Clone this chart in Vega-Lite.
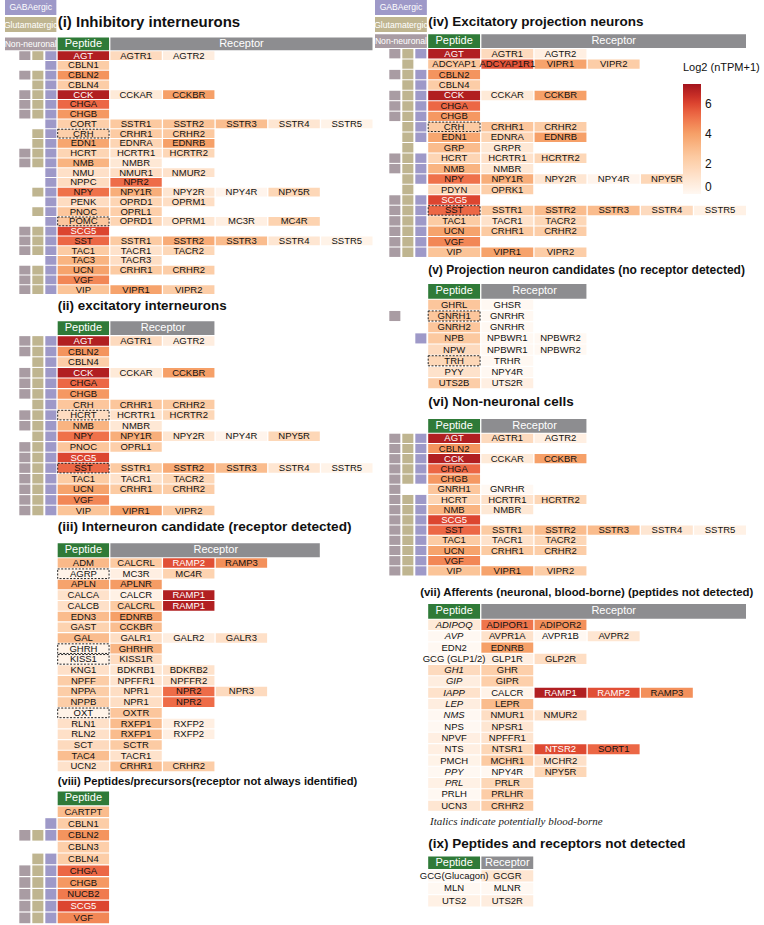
{
"$schema":"https://vega.github.io/schema/vega-lite/v6.json",
"background":"white",
"padding":{"left":3,"top":0,"right":0,"bottom":0},
"config":{"view":{"stroke":null},"font":"Liberation Sans"},
"datasets":{"cells":[
{"p":"i","pep":"AGT","col":"pep","g":"AGT","v":7.0,"ind":["N","G","A"]},{"p":"i","pep":"AGT","col":"r1","g":"AGTR1","v":1.6},{"p":"i","pep":"AGT","col":"r2","g":"AGTR2","v":0.6},
{"p":"i","pep":"CBLN1","col":"pep","g":"CBLN1","v":2.3,"ind":["A"]},
{"p":"i","pep":"CBLN2","col":"pep","g":"CBLN2","v":4.3,"ind":["N","G","A"]},
{"p":"i","pep":"CBLN4","col":"pep","g":"CBLN4","v":2.3,"ind":["G","A"]},
{"p":"i","pep":"CCK","col":"pep","g":"CCK","v":7.0,"ind":["N","G","A"]},{"p":"i","pep":"CCK","col":"r1","g":"CCKAR","v":0.8},{"p":"i","pep":"CCK","col":"r2","g":"CCKBR","v":4.0},
{"p":"i","pep":"CHGA","col":"pep","g":"CHGA","v":5.3,"ind":["N","G","A"]},
{"p":"i","pep":"CHGB","col":"pep","g":"CHGB","v":4.2,"ind":["N","G","A"]},
{"p":"i","pep":"CORT","col":"pep","g":"CORT","v":2.2,"ind":["A"]},{"p":"i","pep":"CORT","col":"r1","g":"SSTR1","v":2.5},{"p":"i","pep":"CORT","col":"r2","g":"SSTR2","v":2.7},{"p":"i","pep":"CORT","col":"r3","g":"SSTR3","v":2.9},{"p":"i","pep":"CORT","col":"r4","g":"SSTR4","v":1.0},{"p":"i","pep":"CORT","col":"r5","g":"SSTR5","v":0.3},
{"p":"i","pep":"CRH","col":"pep","g":"CRH","v":2.2,"ind":["G","A"],"box":1},{"p":"i","pep":"CRH","col":"r1","g":"CRHR1","v":2.4},{"p":"i","pep":"CRH","col":"r2","g":"CRHR2","v":2.5},
{"p":"i","pep":"EDN1","col":"pep","g":"EDN1","v":3.8,"ind":["G","A"]},{"p":"i","pep":"EDN1","col":"r1","g":"EDNRA","v":1.9},{"p":"i","pep":"EDN1","col":"r2","g":"EDNRB","v":4.0},
{"p":"i","pep":"HCRT","col":"pep","g":"HCRT","v":1.9,"ind":["N","G","A"]},{"p":"i","pep":"HCRT","col":"r1","g":"HCRTR1","v":1.2},{"p":"i","pep":"HCRT","col":"r2","g":"HCRTR2","v":1.8},
{"p":"i","pep":"NMB","col":"pep","g":"NMB","v":3.3,"ind":["N","G","A"]},{"p":"i","pep":"NMB","col":"r1","g":"NMBR","v":0.9},
{"p":"i","pep":"NMU","col":"pep","g":"NMU","v":1.3,"ind":["A"]},{"p":"i","pep":"NMU","col":"r1","g":"NMUR1","v":1.4},{"p":"i","pep":"NMU","col":"r2","g":"NMUR2","v":1.2},
{"p":"i","pep":"NPPC","col":"pep","g":"NPPC","v":1.5,"ind":["A"]},{"p":"i","pep":"NPPC","col":"r1","g":"NPR2","v":5.2},
{"p":"i","pep":"NPY","col":"pep","g":"NPY","v":5.1,"ind":["G","A"]},{"p":"i","pep":"NPY","col":"r1","g":"NPY1R","v":3.5},{"p":"i","pep":"NPY","col":"r2","g":"NPY2R","v":1.0},{"p":"i","pep":"NPY","col":"r3","g":"NPY4R","v":0.2},{"p":"i","pep":"NPY","col":"r4","g":"NPY5R","v":1.8},
{"p":"i","pep":"PENK","col":"pep","g":"PENK","v":1.5,"ind":["A"]},{"p":"i","pep":"PENK","col":"r1","g":"OPRD1","v":1.9},{"p":"i","pep":"PENK","col":"r2","g":"OPRM1","v":1.4},
{"p":"i","pep":"PNOC","col":"pep","g":"PNOC","v":2.6,"ind":["G","A"]},{"p":"i","pep":"PNOC","col":"r1","g":"OPRL1","v":2.2},
{"p":"i","pep":"POMC","col":"pep","g":"POMC","v":2.6,"ind":["A"],"box":1},{"p":"i","pep":"POMC","col":"r1","g":"OPRD1","v":1.9},{"p":"i","pep":"POMC","col":"r2","g":"OPRM1","v":1.0},{"p":"i","pep":"POMC","col":"r3","g":"MC3R","v":0.5},{"p":"i","pep":"POMC","col":"r4","g":"MC4R","v":2.0},
{"p":"i","pep":"SCG5","col":"pep","g":"SCG5","v":6.0,"ind":["N","G","A"]},
{"p":"i","pep":"SST","col":"pep","g":"SST","v":5.3,"ind":["N","G","A"]},{"p":"i","pep":"SST","col":"r1","g":"SSTR1","v":2.4},{"p":"i","pep":"SST","col":"r2","g":"SSTR2","v":3.6},{"p":"i","pep":"SST","col":"r3","g":"SSTR3","v":3.0},{"p":"i","pep":"SST","col":"r4","g":"SSTR4","v":1.0},{"p":"i","pep":"SST","col":"r5","g":"SSTR5","v":0.3},
{"p":"i","pep":"TAC1","col":"pep","g":"TAC1","v":2.4,"ind":["N","G","A"]},{"p":"i","pep":"TAC1","col":"r1","g":"TACR1","v":1.2},{"p":"i","pep":"TAC1","col":"r2","g":"TACR2","v":1.8},
{"p":"i","pep":"TAC3","col":"pep","g":"TAC3","v":3.3,"ind":["A"]},{"p":"i","pep":"TAC3","col":"r1","g":"TACR3","v":1.4},
{"p":"i","pep":"UCN","col":"pep","g":"UCN","v":3.9,"ind":["N","G","A"]},{"p":"i","pep":"UCN","col":"r1","g":"CRHR1","v":2.4},{"p":"i","pep":"UCN","col":"r2","g":"CRHR2","v":2.3},
{"p":"i","pep":"VGF","col":"pep","g":"VGF","v":4.6,"ind":["N","G","A"]},
{"p":"i","pep":"VIP","col":"pep","g":"VIP","v":2.7,"ind":["N","G","A"]},{"p":"i","pep":"VIP","col":"r1","g":"VIPR1","v":3.9},{"p":"i","pep":"VIP","col":"r2","g":"VIPR2","v":2.3},

{"p":"ii","pep":"AGT","col":"pep","g":"AGT","v":7.0,"ind":["N","G","A"]},{"p":"ii","pep":"AGT","col":"r1","g":"AGTR1","v":1.6},{"p":"ii","pep":"AGT","col":"r2","g":"AGTR2","v":0.6},
{"p":"ii","pep":"CBLN2","col":"pep","g":"CBLN2","v":4.3,"ind":["N","G","A"]},
{"p":"ii","pep":"CBLN4","col":"pep","g":"CBLN4","v":2.3,"ind":["G","A"]},
{"p":"ii","pep":"CCK","col":"pep","g":"CCK","v":7.0,"ind":["N","G","A"]},{"p":"ii","pep":"CCK","col":"r1","g":"CCKAR","v":0.8},{"p":"ii","pep":"CCK","col":"r2","g":"CCKBR","v":4.0},
{"p":"ii","pep":"CHGA","col":"pep","g":"CHGA","v":5.3,"ind":["N","G","A"]},
{"p":"ii","pep":"CHGB","col":"pep","g":"CHGB","v":4.2,"ind":["N","G","A"]},
{"p":"ii","pep":"CRH","col":"pep","g":"CRH","v":2.6,"ind":["G","A"]},{"p":"ii","pep":"CRH","col":"r1","g":"CRHR1","v":2.6},{"p":"ii","pep":"CRH","col":"r2","g":"CRHR2","v":2.4},
{"p":"ii","pep":"HCRT","col":"pep","g":"HCRT","v":1.5,"ind":["N","G","A"],"box":1},{"p":"ii","pep":"HCRT","col":"r1","g":"HCRTR1","v":1.2},{"p":"ii","pep":"HCRT","col":"r2","g":"HCRTR2","v":1.8},
{"p":"ii","pep":"NMB","col":"pep","g":"NMB","v":3.3,"ind":["N","G","A"]},{"p":"ii","pep":"NMB","col":"r1","g":"NMBR","v":0.9},
{"p":"ii","pep":"NPY","col":"pep","g":"NPY","v":5.1,"ind":["G","A"]},{"p":"ii","pep":"NPY","col":"r1","g":"NPY1R","v":3.5},{"p":"ii","pep":"NPY","col":"r2","g":"NPY2R","v":1.0},{"p":"ii","pep":"NPY","col":"r3","g":"NPY4R","v":0.2},{"p":"ii","pep":"NPY","col":"r4","g":"NPY5R","v":1.8},
{"p":"ii","pep":"PNOC","col":"pep","g":"PNOC","v":2.6,"ind":["N","G","A"]},{"p":"ii","pep":"PNOC","col":"r1","g":"OPRL1","v":2.2},
{"p":"ii","pep":"SCG5","col":"pep","g":"SCG5","v":6.0,"ind":["N","G","A"]},
{"p":"ii","pep":"SST","col":"pep","g":"SST","v":5.3,"ind":["N","G","A"],"box":1},{"p":"ii","pep":"SST","col":"r1","g":"SSTR1","v":2.4},{"p":"ii","pep":"SST","col":"r2","g":"SSTR2","v":3.6},{"p":"ii","pep":"SST","col":"r3","g":"SSTR3","v":3.0},{"p":"ii","pep":"SST","col":"r4","g":"SSTR4","v":1.0},{"p":"ii","pep":"SST","col":"r5","g":"SSTR5","v":0.3},
{"p":"ii","pep":"TAC1","col":"pep","g":"TAC1","v":2.4,"ind":["N","G","A"]},{"p":"ii","pep":"TAC1","col":"r1","g":"TACR1","v":1.2},{"p":"ii","pep":"TAC1","col":"r2","g":"TACR2","v":1.8},
{"p":"ii","pep":"UCN","col":"pep","g":"UCN","v":3.9,"ind":["N","G","A"]},{"p":"ii","pep":"UCN","col":"r1","g":"CRHR1","v":2.4},{"p":"ii","pep":"UCN","col":"r2","g":"CRHR2","v":2.3},
{"p":"ii","pep":"VGF","col":"pep","g":"VGF","v":4.6,"ind":["N","G","A"]},
{"p":"ii","pep":"VIP","col":"pep","g":"VIP","v":2.7,"ind":["N","G","A"]},{"p":"ii","pep":"VIP","col":"r1","g":"VIPR1","v":3.9},{"p":"ii","pep":"VIP","col":"r2","g":"VIPR2","v":2.3},

{"p":"iii","pep":"ADM","col":"pep","g":"ADM","v":3.1},{"p":"iii","pep":"ADM","col":"r1","g":"CALCRL","v":2.4},{"p":"iii","pep":"ADM","col":"r2","g":"RAMP2","v":5.8},{"p":"iii","pep":"ADM","col":"r3","g":"RAMP3","v":4.4},
{"p":"iii","pep":"AGRP","col":"pep","g":"AGRP","v":0.3,"box":1},{"p":"iii","pep":"AGRP","col":"r1","g":"MC3R","v":0.5},{"p":"iii","pep":"AGRP","col":"r2","g":"MC4R","v":2.0},
{"p":"iii","pep":"APLN","col":"pep","g":"APLN","v":3.9},{"p":"iii","pep":"APLN","col":"r1","g":"APLNR","v":4.1},
{"p":"iii","pep":"CALCA","col":"pep","g":"CALCA","v":1.2},{"p":"iii","pep":"CALCA","col":"r1","g":"CALCR","v":0.4},{"p":"iii","pep":"CALCA","col":"r2","g":"RAMP1","v":7.0},
{"p":"iii","pep":"CALCB","col":"pep","g":"CALCB","v":1.3},{"p":"iii","pep":"CALCB","col":"r1","g":"CALCRL","v":2.4},{"p":"iii","pep":"CALCB","col":"r2","g":"RAMP1","v":7.0},
{"p":"iii","pep":"EDN3","col":"pep","g":"EDN3","v":3.0},{"p":"iii","pep":"EDN3","col":"r1","g":"EDNRB","v":4.0},
{"p":"iii","pep":"GAST","col":"pep","g":"GAST","v":2.0},{"p":"iii","pep":"GAST","col":"r1","g":"CCKBR","v":2.9},
{"p":"iii","pep":"GAL","col":"pep","g":"GAL","v":3.0},{"p":"iii","pep":"GAL","col":"r1","g":"GALR1","v":1.4},{"p":"iii","pep":"GAL","col":"r2","g":"GALR2","v":0.6},{"p":"iii","pep":"GAL","col":"r3","g":"GALR3","v":1.3},
{"p":"iii","pep":"GHRH","col":"pep","g":"GHRH","v":0.3,"box":1},{"p":"iii","pep":"GHRH","col":"r1","g":"GHRHR","v":3.2},
{"p":"iii","pep":"KISS1","col":"pep","g":"KISS1","v":0.3,"box":1},{"p":"iii","pep":"KISS1","col":"r1","g":"KISS1R","v":1.5},
{"p":"iii","pep":"KNG1","col":"pep","g":"KNG1","v":1.3},{"p":"iii","pep":"KNG1","col":"r1","g":"BDKRB1","v":1.0},{"p":"iii","pep":"KNG1","col":"r2","g":"BDKRB2","v":1.2},
{"p":"iii","pep":"NPFF","col":"pep","g":"NPFF","v":2.3},{"p":"iii","pep":"NPFF","col":"r1","g":"NPFFR1","v":1.1},{"p":"iii","pep":"NPFF","col":"r2","g":"NPFFR2","v":1.2},
{"p":"iii","pep":"NPPA","col":"pep","g":"NPPA","v":2.3},{"p":"iii","pep":"NPPA","col":"r1","g":"NPR1","v":1.4},{"p":"iii","pep":"NPPA","col":"r2","g":"NPR2","v":5.2},{"p":"iii","pep":"NPPA","col":"r3","g":"NPR3","v":1.6},
{"p":"iii","pep":"NPPB","col":"pep","g":"NPPB","v":2.3},{"p":"iii","pep":"NPPB","col":"r1","g":"NPR1","v":1.4},{"p":"iii","pep":"NPPB","col":"r2","g":"NPR2","v":5.2},
{"p":"iii","pep":"OXT","col":"pep","g":"OXT","v":0.3,"box":1},{"p":"iii","pep":"OXT","col":"r1","g":"OXTR","v":2.6},
{"p":"iii","pep":"RLN1","col":"pep","g":"RLN1","v":1.3},{"p":"iii","pep":"RLN1","col":"r1","g":"RXFP1","v":3.0},{"p":"iii","pep":"RLN1","col":"r2","g":"RXFP2","v":0.5},
{"p":"iii","pep":"RLN2","col":"pep","g":"RLN2","v":1.3},{"p":"iii","pep":"RLN2","col":"r1","g":"RXFP1","v":3.0},{"p":"iii","pep":"RLN2","col":"r2","g":"RXFP2","v":0.5},
{"p":"iii","pep":"SCT","col":"pep","g":"SCT","v":1.6},{"p":"iii","pep":"SCT","col":"r1","g":"SCTR","v":2.4},
{"p":"iii","pep":"TAC4","col":"pep","g":"TAC4","v":2.9},{"p":"iii","pep":"TAC4","col":"r1","g":"TACR1","v":1.2},
{"p":"iii","pep":"UCN2","col":"pep","g":"UCN2","v":1.2},{"p":"iii","pep":"UCN2","col":"r1","g":"CRHR1","v":2.9},{"p":"iii","pep":"UCN2","col":"r2","g":"CRHR2","v":2.3},

{"p":"viii","pep":"CARTPT","col":"pep","g":"CARTPT","v":3.0},
{"p":"viii","pep":"CBLN1","col":"pep","g":"CBLN1","v":2.3,"ind":["A"]},
{"p":"viii","pep":"CBLN2","col":"pep","g":"CBLN2","v":4.3,"ind":["N","G","A"]},
{"p":"viii","pep":"CBLN3","col":"pep","g":"CBLN3","v":2.2},
{"p":"viii","pep":"CBLN4","col":"pep","g":"CBLN4","v":2.3,"ind":["G","A"]},
{"p":"viii","pep":"CHGA","col":"pep","g":"CHGA","v":5.3,"ind":["N","G","A"]},
{"p":"viii","pep":"CHGB","col":"pep","g":"CHGB","v":4.2,"ind":["N","G","A"]},
{"p":"viii","pep":"NUCB2","col":"pep","g":"NUCB2","v":4.9,"ind":["N","G","A"]},
{"p":"viii","pep":"SCG5","col":"pep","g":"SCG5","v":6.0,"ind":["N","G","A"]},
{"p":"viii","pep":"VGF","col":"pep","g":"VGF","v":4.6,"ind":["N","G","A"]},

{"p":"iv","pep":"AGT","col":"pep","g":"AGT","v":7.0,"ind":["N","G","A"]},{"p":"iv","pep":"AGT","col":"r1","g":"AGTR1","v":1.6},{"p":"iv","pep":"AGT","col":"r2","g":"AGTR2","v":0.5},
{"p":"iv","pep":"ADCYAP1","col":"pep","g":"ADCYAP1","v":2.6,"ind":["G"]},{"p":"iv","pep":"ADCYAP1","col":"r1","g":"ADCYAP1R1","v":5.7},{"p":"iv","pep":"ADCYAP1","col":"r2","g":"VIPR1","v":3.9},{"p":"iv","pep":"ADCYAP1","col":"r3","g":"VIPR2","v":2.3},
{"p":"iv","pep":"CBLN2","col":"pep","g":"CBLN2","v":4.3,"ind":["N","G","A"]},
{"p":"iv","pep":"CBLN4","col":"pep","g":"CBLN4","v":2.3,"ind":["G","A"]},
{"p":"iv","pep":"CCK","col":"pep","g":"CCK","v":7.0,"ind":["N","G","A"]},{"p":"iv","pep":"CCK","col":"r1","g":"CCKAR","v":0.8},{"p":"iv","pep":"CCK","col":"r2","g":"CCKBR","v":4.0},
{"p":"iv","pep":"CHGA","col":"pep","g":"CHGA","v":5.3,"ind":["N","G","A"]},
{"p":"iv","pep":"CHGB","col":"pep","g":"CHGB","v":4.2,"ind":["N","G","A"]},
{"p":"iv","pep":"CRH","col":"pep","g":"CRH","v":2.4,"ind":["G","A"],"box":1},{"p":"iv","pep":"CRH","col":"r1","g":"CRHR1","v":2.6},{"p":"iv","pep":"CRH","col":"r2","g":"CRHR2","v":2.3},
{"p":"iv","pep":"EDN1","col":"pep","g":"EDN1","v":3.8,"ind":["G","A"]},{"p":"iv","pep":"EDN1","col":"r1","g":"EDNRA","v":1.9},{"p":"iv","pep":"EDN1","col":"r2","g":"EDNRB","v":4.0},
{"p":"iv","pep":"GRP","col":"pep","g":"GRP","v":3.0,"ind":["G"]},{"p":"iv","pep":"GRP","col":"r1","g":"GRPR","v":0.9},
{"p":"iv","pep":"HCRT","col":"pep","g":"HCRT","v":1.9,"ind":["N","G","A"]},{"p":"iv","pep":"HCRT","col":"r1","g":"HCRTR1","v":1.2},{"p":"iv","pep":"HCRT","col":"r2","g":"HCRTR2","v":1.8},
{"p":"iv","pep":"NMB","col":"pep","g":"NMB","v":3.3,"ind":["N","G","A"]},{"p":"iv","pep":"NMB","col":"r1","g":"NMBR","v":0.9},
{"p":"iv","pep":"NPY","col":"pep","g":"NPY","v":5.1,"ind":["G","A"]},{"p":"iv","pep":"NPY","col":"r1","g":"NPY1R","v":3.5},{"p":"iv","pep":"NPY","col":"r2","g":"NPY2R","v":1.0},{"p":"iv","pep":"NPY","col":"r3","g":"NPY4R","v":0.2},{"p":"iv","pep":"NPY","col":"r4","g":"NPY5R","v":1.8},
{"p":"iv","pep":"PDYN","col":"pep","g":"PDYN","v":1.8,"ind":["G"]},{"p":"iv","pep":"PDYN","col":"r1","g":"OPRK1","v":2.2},
{"p":"iv","pep":"SCG5","col":"pep","g":"SCG5","v":6.0,"ind":["N","G","A"]},
{"p":"iv","pep":"SST","col":"pep","g":"SST","v":5.3,"ind":["N","G","A"],"box":1},{"p":"iv","pep":"SST","col":"r1","g":"SSTR1","v":2.4},{"p":"iv","pep":"SST","col":"r2","g":"SSTR2","v":3.0},{"p":"iv","pep":"SST","col":"r3","g":"SSTR3","v":3.0},{"p":"iv","pep":"SST","col":"r4","g":"SSTR4","v":1.6},{"p":"iv","pep":"SST","col":"r5","g":"SSTR5","v":0.4},
{"p":"iv","pep":"TAC1","col":"pep","g":"TAC1","v":2.4,"ind":["N","G","A"]},{"p":"iv","pep":"TAC1","col":"r1","g":"TACR1","v":1.2},{"p":"iv","pep":"TAC1","col":"r2","g":"TACR2","v":1.8},
{"p":"iv","pep":"UCN","col":"pep","g":"UCN","v":3.9,"ind":["N","G","A"]},{"p":"iv","pep":"UCN","col":"r1","g":"CRHR1","v":2.4},{"p":"iv","pep":"UCN","col":"r2","g":"CRHR2","v":2.3},
{"p":"iv","pep":"VGF","col":"pep","g":"VGF","v":4.6,"ind":["N","G","A"]},
{"p":"iv","pep":"VIP","col":"pep","g":"VIP","v":2.7,"ind":["N","G","A"]},{"p":"iv","pep":"VIP","col":"r1","g":"VIPR1","v":3.9},{"p":"iv","pep":"VIP","col":"r2","g":"VIPR2","v":2.3},

{"p":"v","pep":"GHRL","col":"pep","g":"GHRL","v":2.6},{"p":"v","pep":"GHRL","col":"r1","g":"GHSR","v":0},
{"p":"v","pep":"GNRH1","col":"pep","g":"GNRH1","v":2.6,"ind":["N"],"box":1},{"p":"v","pep":"GNRH1","col":"r1","g":"GNRHR","v":0},
{"p":"v","pep":"GNRH2","col":"pep","g":"GNRH2","v":2.6},{"p":"v","pep":"GNRH2","col":"r1","g":"GNRHR","v":0},
{"p":"v","pep":"NPB","col":"pep","g":"NPB","v":2.5,"ind":["A"]},{"p":"v","pep":"NPB","col":"r1","g":"NPBWR1","v":0},{"p":"v","pep":"NPB","col":"r2","g":"NPBWR2","v":0},
{"p":"v","pep":"NPW","col":"pep","g":"NPW","v":1.6},{"p":"v","pep":"NPW","col":"r1","g":"NPBWR1","v":0},{"p":"v","pep":"NPW","col":"r2","g":"NPBWR2","v":0},
{"p":"v","pep":"TRH","col":"pep","g":"TRH","v":1.8,"box":1},{"p":"v","pep":"TRH","col":"r1","g":"TRHR","v":0},
{"p":"v","pep":"PYY","col":"pep","g":"PYY","v":1.2},{"p":"v","pep":"PYY","col":"r1","g":"NPY4R","v":0},
{"p":"v","pep":"UTS2B","col":"pep","g":"UTS2B","v":2.3},{"p":"v","pep":"UTS2B","col":"r1","g":"UTS2R","v":0.5},

{"p":"vi","pep":"AGT","col":"pep","g":"AGT","v":7.0,"ind":["N","G","A"]},{"p":"vi","pep":"AGT","col":"r1","g":"AGTR1","v":1.6},{"p":"vi","pep":"AGT","col":"r2","g":"AGTR2","v":0.5},
{"p":"vi","pep":"CBLN2","col":"pep","g":"CBLN2","v":4.3,"ind":["N","G","A"]},
{"p":"vi","pep":"CCK","col":"pep","g":"CCK","v":7.0,"ind":["N","G","A"]},{"p":"vi","pep":"CCK","col":"r1","g":"CCKAR","v":0.8},{"p":"vi","pep":"CCK","col":"r2","g":"CCKBR","v":4.0},
{"p":"vi","pep":"CHGA","col":"pep","g":"CHGA","v":5.3,"ind":["N","G","A"]},
{"p":"vi","pep":"CHGB","col":"pep","g":"CHGB","v":4.2,"ind":["N","G","A"]},
{"p":"vi","pep":"GNRH1","col":"pep","g":"GNRH1","v":2.6,"ind":["N"]},{"p":"vi","pep":"GNRH1","col":"r1","g":"GNRHR","v":0},
{"p":"vi","pep":"HCRT","col":"pep","g":"HCRT","v":1.9,"ind":["N","G","A"]},{"p":"vi","pep":"HCRT","col":"r1","g":"HCRTR1","v":1.2},{"p":"vi","pep":"HCRT","col":"r2","g":"HCRTR2","v":1.8},
{"p":"vi","pep":"NMB","col":"pep","g":"NMB","v":3.3,"ind":["N","G","A"]},{"p":"vi","pep":"NMB","col":"r1","g":"NMBR","v":0.9},
{"p":"vi","pep":"SCG5","col":"pep","g":"SCG5","v":6.0,"ind":["N","G","A"]},
{"p":"vi","pep":"SST","col":"pep","g":"SST","v":5.3,"ind":["N","G","A"]},{"p":"vi","pep":"SST","col":"r1","g":"SSTR1","v":2.4},{"p":"vi","pep":"SST","col":"r2","g":"SSTR2","v":3.0},{"p":"vi","pep":"SST","col":"r3","g":"SSTR3","v":3.0},{"p":"vi","pep":"SST","col":"r4","g":"SSTR4","v":1.0},{"p":"vi","pep":"SST","col":"r5","g":"SSTR5","v":0.4},
{"p":"vi","pep":"TAC1","col":"pep","g":"TAC1","v":2.4,"ind":["N","G","A"]},{"p":"vi","pep":"TAC1","col":"r1","g":"TACR1","v":1.2},{"p":"vi","pep":"TAC1","col":"r2","g":"TACR2","v":1.8},
{"p":"vi","pep":"UCN","col":"pep","g":"UCN","v":3.9,"ind":["N","G","A"]},{"p":"vi","pep":"UCN","col":"r1","g":"CRHR1","v":2.4},{"p":"vi","pep":"UCN","col":"r2","g":"CRHR2","v":2.3},
{"p":"vi","pep":"VGF","col":"pep","g":"VGF","v":4.6,"ind":["N","G","A"]},
{"p":"vi","pep":"VIP","col":"pep","g":"VIP","v":2.7,"ind":["N","G","A"]},{"p":"vi","pep":"VIP","col":"r1","g":"VIPR1","v":3.9},{"p":"vi","pep":"VIP","col":"r2","g":"VIPR2","v":2.3},

{"p":"vii","pep":"ADIPOQ","col":"pep","g":"ADIPOQ","v":0.8,"it":1},{"p":"vii","pep":"ADIPOQ","col":"r1","g":"ADIPOR1","v":5.0},{"p":"vii","pep":"ADIPOQ","col":"r2","g":"ADIPOR2","v":4.4},
{"p":"vii","pep":"AVP","col":"pep","g":"AVP","v":0,"it":1},{"p":"vii","pep":"AVP","col":"r1","g":"AVPR1A","v":1.2},{"p":"vii","pep":"AVP","col":"r2","g":"AVPR1B","v":0},{"p":"vii","pep":"AVP","col":"r3","g":"AVPR2","v":1.0},
{"p":"vii","pep":"EDN2","col":"pep","g":"EDN2","v":0},{"p":"vii","pep":"EDN2","col":"r1","g":"EDNRB","v":4.0},
{"p":"vii","pep":"GCG (GLP1/2)","col":"pep","g":"GCG (GLP1/2)","v":0},{"p":"vii","pep":"GCG (GLP1/2)","col":"r1","g":"GLP1R","v":0.5},{"p":"vii","pep":"GCG (GLP1/2)","col":"r2","g":"GLP2R","v":1.4},
{"p":"vii","pep":"GH1","col":"pep","g":"GH1","v":1.6,"it":1},{"p":"vii","pep":"GH1","col":"r1","g":"GHR","v":2.2},
{"p":"vii","pep":"GIP","col":"pep","g":"GIP","v":0.6,"it":1},{"p":"vii","pep":"GIP","col":"r1","g":"GIPR","v":2.2},
{"p":"vii","pep":"IAPP","col":"pep","g":"IAPP","v":1.2,"it":1},{"p":"vii","pep":"IAPP","col":"r1","g":"CALCR","v":0.3},{"p":"vii","pep":"IAPP","col":"r2","g":"RAMP1","v":7.0},{"p":"vii","pep":"IAPP","col":"r3","g":"RAMP2","v":5.8},{"p":"vii","pep":"IAPP","col":"r4","g":"RAMP3","v":4.4},
{"p":"vii","pep":"LEP","col":"pep","g":"LEP","v":0.6,"it":1},{"p":"vii","pep":"LEP","col":"r1","g":"LEPR","v":3.0},
{"p":"vii","pep":"NMS","col":"pep","g":"NMS","v":0,"it":1},{"p":"vii","pep":"NMS","col":"r1","g":"NMUR1","v":1.4},{"p":"vii","pep":"NMS","col":"r2","g":"NMUR2","v":1.2},
{"p":"vii","pep":"NPS","col":"pep","g":"NPS","v":0},{"p":"vii","pep":"NPS","col":"r1","g":"NPSR1","v":1.0},
{"p":"vii","pep":"NPVF","col":"pep","g":"NPVF","v":0.5},{"p":"vii","pep":"NPVF","col":"r1","g":"NPFFR1","v":1.1},
{"p":"vii","pep":"NTS","col":"pep","g":"NTS","v":0.5},{"p":"vii","pep":"NTS","col":"r1","g":"NTSR1","v":1.8},{"p":"vii","pep":"NTS","col":"r2","g":"NTSR2","v":5.9},{"p":"vii","pep":"NTS","col":"r3","g":"SORT1","v":5.3},
{"p":"vii","pep":"PMCH","col":"pep","g":"PMCH","v":0.3},{"p":"vii","pep":"PMCH","col":"r1","g":"MCHR1","v":2.4},{"p":"vii","pep":"PMCH","col":"r2","g":"MCHR2","v":1.3},
{"p":"vii","pep":"PPY","col":"pep","g":"PPY","v":0,"it":1},{"p":"vii","pep":"PPY","col":"r1","g":"NPY4R","v":0},{"p":"vii","pep":"PPY","col":"r2","g":"NPY5R","v":1.8},
{"p":"vii","pep":"PRL","col":"pep","g":"PRL","v":0.4,"it":1},{"p":"vii","pep":"PRL","col":"r1","g":"PRLR","v":1.8},
{"p":"vii","pep":"PRLH","col":"pep","g":"PRLH","v":0},{"p":"vii","pep":"PRLH","col":"r1","g":"PRLHR","v":2.3},
{"p":"vii","pep":"UCN3","col":"pep","g":"UCN3","v":1.0},{"p":"vii","pep":"UCN3","col":"r1","g":"CRHR2","v":2.3},

{"p":"ix","pep":"GCG(Glucagon)","col":"pep","g":"GCG(Glucagon)","v":0},{"p":"ix","pep":"GCG(Glucagon)","col":"r1","g":"GCGR","v":1.0},
{"p":"ix","pep":"MLN","col":"pep","g":"MLN","v":0},{"p":"ix","pep":"MLN","col":"r1","g":"MLNR","v":0},
{"p":"ix","pep":"UTS2","col":"pep","g":"UTS2","v":0.4},{"p":"ix","pep":"UTS2","col":"r1","g":"UTS2R","v":0.6}
]},
"spacing":1,
"resolve":{"scale":{"color":"independent","fill":"independent"},"legend":{"color":"independent","fill":"independent"}},
"hconcat":[
{"spacing":3,
"resolve":{"scale":{"color":"independent","fill":"independent"},"legend":{"color":"independent","fill":"independent"}},
"vconcat":[
{"spacing":5,
"resolve":{"scale":{"color":"independent","fill":"independent"},"legend":{"color":"independent","fill":"independent"}},
"vconcat":[
{"width":367.5,"height":32,
"data":{"values":[{"lab":"GABAergic","c":"A"},{"lab":"Glutamatergic","c":"G"}]},
"encoding":{"x":{"datum":"ind","type":"nominal","scale":{"domain":["ind","pep","r1","r2","r3","r4","r5"],"paddingInner":0.025,"paddingOuter":0},"axis":null},
"y":{"field":"lab","type":"nominal","scale":{"domain":["GABAergic","Glutamatergic"],"paddingInner":0.12,"paddingOuter":0},"axis":null}},
"layer":[
{"mark":{"type":"rect"},"encoding":{"fill":{"field":"c","type":"nominal","scale":{"domain":["N","G","A"],"range":["#a99ca3","#bfb590","#9e99c8"]},"legend":null}}},
{"mark":{"type":"text","color":"white","fontSize":8.6},"encoding":{"text":{"field":"lab"}}},
{"data":{"values":[{"t":"(i) Inhibitory interneurons"}]},"mark":{"type":"text","align":"left","baseline":"middle","dy":-3,"fontSize":15,"fontWeight":"bold","color":"#111"},"encoding":{"x":{"datum":"pep","bandPosition":0},"y":{"datum":"Glutamatergic"},"text":{"field":"t"}}}
]},
{"width":367.5,"height":{"step":9.75},
"encoding":{"x":{"field":"col","type":"nominal","scale":{"domain":["ind","pep","r1","r2","r3","r4","r5"],"paddingInner":0.025,"paddingOuter":0},"axis":null},
"y":{"field":"pep","type":"nominal","scale":{"domain":["hdr","AGT","CBLN1","CBLN2","CBLN4","CCK","CHGA","CHGB","CORT","CRH","EDN1","HCRT","NMB","NMU","NPPC","NPY","PENK","PNOC","POMC","SCG5","SST","TAC1","TAC3","UCN","VGF","VIP"],"paddingInner":0.1,"paddingOuter":0.05},"axis":null}},
"layer":[
{"data":{"values":[{"h":"Peptide"}]},"mark":{"type":"rect","color":"#2f7a38"},"encoding":{"x":{"datum":"pep"},"y":{"datum":"hdr","bandPosition":-0.45},"y2":{"datum":"hdr","bandPosition":1}}},
{"data":{"values":[{"h":"Receptor"}]},"mark":{"type":"rect","color":"#8d8d90"},"encoding":{"x":{"datum":"r1","bandPosition":0},"x2":{"datum":"r5","bandPosition":1},"y":{"datum":"hdr","bandPosition":-0.45},"y2":{"datum":"hdr","bandPosition":1}}},
{"data":{"values":[{"h":"Peptide"}]},"mark":{"type":"text","color":"white","fontSize":11},"encoding":{"x":{"datum":"pep"},"y":{"datum":"hdr","bandPosition":0.28},"text":{"field":"h"}}},
{"data":{"values":[{"h":"Receptor"}]},"mark":{"type":"text","color":"white","fontSize":11},"encoding":{"x":{"datum":"r3","bandPosition":0.5},"y":{"datum":"hdr","bandPosition":0.28},"text":{"field":"h"}}},
{"data":{"values":[{"lab":"Non-neuronal","c":"N"}]},"mark":{"type":"rect"},"encoding":{"x":{"datum":"ind"},"y":{"datum":"hdr","bandPosition":-0.45},"y2":{"datum":"hdr","bandPosition":1},"fill":{"field":"c","type":"nominal","scale":{"domain":["N","G","A"],"range":["#a99ca3","#bfb590","#9e99c8"]},"legend":null}}},
{"data":{"values":[{"lab":"Non-neuronal"}]},"mark":{"type":"text","color":"white","fontSize":8.6},"encoding":{"x":{"datum":"ind"},"y":{"datum":"hdr","bandPosition":0.28},"text":{"field":"lab"}}},
{"data":{"name":"cells"},"transform":[{"filter":"datum.p=='i'"}],"mark":{"type":"rect"},"encoding":{"color":{"field":"v","type":"quantitative","scale":{"domain":[0,1,2.5,4,5.2,6.2,7.3],"range":["#fff8f2","#fee6d2","#fcc9a0","#f6a068","#ee6c48","#d8392a","#a3141d"],"clamp":true},"legend":null}}},
{"data":{"name":"cells"},"transform":[{"filter":"datum.p=='i'"}],"mark":{"type":"text","fontSize":9.5},"encoding":{"text":{"field":"g"},"color":{"condition":{"test":"datum.v>=5.8","value":"white"},"value":"#111"}}},
{"data":{"name":"cells"},"transform":[{"filter":"datum.p=='i' && datum.box"}],"mark":{"type":"rect","filled":false,"stroke":"#222","strokeWidth":1,"strokeDash":[2,1.5]}},
{"data":{"name":"cells"},"transform":[{"filter":"datum.p=='i' && datum.ind"},{"flatten":["ind"]}],"mark":{"type":"rect"},"encoding":{"x":{"datum":"ind"},"xOffset":{"field":"ind","type":"nominal","scale":{"domain":["N","G","A"],"paddingInner":0.15,"paddingOuter":0.55,"align":1}},"fill":{"field":"ind","type":"nominal","scale":{"domain":["N","G","A"],"range":["#a99ca3","#bfb590","#9e99c8"]},"legend":null}}}
]}
]},
{"width":367.5,"height":{"step":10.6},
"encoding":{"x":{"field":"col","type":"nominal","scale":{"domain":["ind","pep","r1","r2","r3","r4","r5"],"paddingInner":0.025,"paddingOuter":0},"axis":null},
"y":{"field":"pep","type":"nominal","scale":{"domain":["hdr","AGT","CBLN2","CBLN4","CCK","CHGA","CHGB","CRH","HCRT","NMB","NPY","PNOC","SCG5","SST","TAC1","UCN","VGF","VIP"],"paddingInner":0.1,"paddingOuter":0.05},"axis":null}},
"layer":[
{"data":{"values":[{"h":"Peptide"}]},"mark":{"type":"rect","color":"#2f7a38"},"encoding":{"x":{"datum":"pep"},"y":{"datum":"hdr","bandPosition":-0.45},"y2":{"datum":"hdr","bandPosition":1}}},
{"data":{"values":[{"h":"Receptor"}]},"mark":{"type":"rect","color":"#8d8d90"},"encoding":{"x":{"datum":"r1","bandPosition":0},"x2":{"datum":"r2","bandPosition":1},"y":{"datum":"hdr","bandPosition":-0.45},"y2":{"datum":"hdr","bandPosition":1}}},
{"data":{"values":[{"h":"Peptide"}]},"mark":{"type":"text","color":"white","fontSize":11},"encoding":{"x":{"datum":"pep"},"y":{"datum":"hdr","bandPosition":0.28},"text":{"field":"h"}}},
{"data":{"values":[{"h":"Receptor"}]},"mark":{"type":"text","color":"white","fontSize":11},"encoding":{"x":{"datum":"r2","bandPosition":0},"y":{"datum":"hdr","bandPosition":0.28},"text":{"field":"h"}}},
{"data":{"name":"cells"},"transform":[{"filter":"datum.p=='ii'"}],"mark":{"type":"rect"},"encoding":{"color":{"field":"v","type":"quantitative","scale":{"domain":[0,1,2.5,4,5.2,6.2,7.3],"range":["#fff8f2","#fee6d2","#fcc9a0","#f6a068","#ee6c48","#d8392a","#a3141d"],"clamp":true},"legend":null}}},
{"data":{"name":"cells"},"transform":[{"filter":"datum.p=='ii'"}],"mark":{"type":"text","fontSize":9.5},"encoding":{"text":{"field":"g"},"color":{"condition":{"test":"datum.v>=5.8","value":"white"},"value":"#111"}}},
{"data":{"name":"cells"},"transform":[{"filter":"datum.p=='ii' && datum.box"}],"mark":{"type":"rect","filled":false,"stroke":"#222","strokeWidth":1,"strokeDash":[2,1.5]}},
{"data":{"name":"cells"},"transform":[{"filter":"datum.p=='ii' && datum.ind"},{"flatten":["ind"]}],"mark":{"type":"rect"},"encoding":{"x":{"datum":"ind"},"xOffset":{"field":"ind","type":"nominal","scale":{"domain":["N","G","A"],"paddingInner":0.15,"paddingOuter":0.55,"align":1}},"fill":{"field":"ind","type":"nominal","scale":{"domain":["N","G","A"],"range":["#a99ca3","#bfb590","#9e99c8"]},"legend":null}}},
{"data":{"values":[{"t":"(ii) excitatory interneurons"}]},"mark":{"type":"text","align":"left","baseline":"alphabetic","dy":-16,"fontSize":13.4,"fontWeight":"bold","color":"#111"},"encoding":{"x":{"datum":"pep","bandPosition":0},"y":{"datum":"hdr","bandPosition":0},"text":{"field":"t"}}}
]},
{"width":367.5,"height":{"step":10.7},
"encoding":{"x":{"field":"col","type":"nominal","scale":{"domain":["ind","pep","r1","r2","r3","r4","r5"],"paddingInner":0.025,"paddingOuter":0},"axis":null},
"y":{"field":"pep","type":"nominal","scale":{"domain":["hdr","ADM","AGRP","APLN","CALCA","CALCB","EDN3","GAST","GAL","GHRH","KISS1","KNG1","NPFF","NPPA","NPPB","OXT","RLN1","RLN2","SCT","TAC4","UCN2"],"paddingInner":0.1,"paddingOuter":0.05},"axis":null}},
"layer":[
{"data":{"values":[{"h":"Peptide"}]},"mark":{"type":"rect","color":"#2f7a38"},"encoding":{"x":{"datum":"pep"},"y":{"datum":"hdr","bandPosition":-0.45},"y2":{"datum":"hdr","bandPosition":1}}},
{"data":{"values":[{"h":"Receptor"}]},"mark":{"type":"rect","color":"#8d8d90"},"encoding":{"x":{"datum":"r1","bandPosition":0},"x2":{"datum":"r4","bandPosition":1},"y":{"datum":"hdr","bandPosition":-0.45},"y2":{"datum":"hdr","bandPosition":1}}},
{"data":{"values":[{"h":"Peptide"}]},"mark":{"type":"text","color":"white","fontSize":11},"encoding":{"x":{"datum":"pep"},"y":{"datum":"hdr","bandPosition":0.28},"text":{"field":"h"}}},
{"data":{"values":[{"h":"Receptor"}]},"mark":{"type":"text","color":"white","fontSize":11},"encoding":{"x":{"datum":"r3","bandPosition":0},"y":{"datum":"hdr","bandPosition":0.28},"text":{"field":"h"}}},
{"data":{"name":"cells"},"transform":[{"filter":"datum.p=='iii'"}],"mark":{"type":"rect"},"encoding":{"color":{"field":"v","type":"quantitative","scale":{"domain":[0,1,2.5,4,5.2,6.2,7.3],"range":["#fff8f2","#fee6d2","#fcc9a0","#f6a068","#ee6c48","#d8392a","#a3141d"],"clamp":true},"legend":null}}},
{"data":{"name":"cells"},"transform":[{"filter":"datum.p=='iii'"}],"mark":{"type":"text","fontSize":9.5},"encoding":{"text":{"field":"g"},"color":{"condition":{"test":"datum.v>=5.8","value":"white"},"value":"#111"}}},
{"data":{"name":"cells"},"transform":[{"filter":"datum.p=='iii' && datum.box"}],"mark":{"type":"rect","filled":false,"stroke":"#222","strokeWidth":1,"strokeDash":[2,1.5]}},
{"data":{"values":[{"t":"(iii) Interneuron candidate (receptor detected)"}]},"mark":{"type":"text","align":"left","baseline":"alphabetic","dy":-17,"fontSize":13.6,"fontWeight":"bold","color":"#111"},"encoding":{"x":{"datum":"pep","bandPosition":0},"y":{"datum":"hdr","bandPosition":0},"text":{"field":"t"}}}
]},
{"width":367.5,"height":{"step":11.8},
"encoding":{"x":{"field":"col","type":"nominal","scale":{"domain":["ind","pep","r1","r2","r3","r4","r5"],"paddingInner":0.025,"paddingOuter":0},"axis":null},
"y":{"field":"pep","type":"nominal","scale":{"domain":["hdr","CARTPT","CBLN1","CBLN2","CBLN3","CBLN4","CHGA","CHGB","NUCB2","SCG5","VGF"],"paddingInner":0.1,"paddingOuter":0.05},"axis":null}},
"layer":[
{"data":{"values":[{"h":"Peptide"}]},"mark":{"type":"rect","color":"#2f7a38"},"encoding":{"x":{"datum":"pep"},"y":{"datum":"hdr","bandPosition":-0.3},"y2":{"datum":"hdr","bandPosition":1}}},
{"data":{"values":[{"h":"Peptide"}]},"mark":{"type":"text","color":"white","fontSize":11},"encoding":{"x":{"datum":"pep"},"y":{"datum":"hdr","bandPosition":0.35},"text":{"field":"h"}}},
{"data":{"name":"cells"},"transform":[{"filter":"datum.p=='viii'"}],"mark":{"type":"rect"},"encoding":{"color":{"field":"v","type":"quantitative","scale":{"domain":[0,1,2.5,4,5.2,6.2,7.3],"range":["#fff8f2","#fee6d2","#fcc9a0","#f6a068","#ee6c48","#d8392a","#a3141d"],"clamp":true},"legend":null}}},
{"data":{"name":"cells"},"transform":[{"filter":"datum.p=='viii'"}],"mark":{"type":"text","fontSize":9.5},"encoding":{"text":{"field":"g"},"color":{"condition":{"test":"datum.v>=5.8","value":"white"},"value":"#111"}}},
{"data":{"name":"cells"},"transform":[{"filter":"datum.p=='viii' && datum.ind"},{"flatten":["ind"]}],"mark":{"type":"rect"},"encoding":{"x":{"datum":"ind"},"xOffset":{"field":"ind","type":"nominal","scale":{"domain":["N","G","A"],"paddingInner":0.15,"paddingOuter":0.55,"align":1}},"fill":{"field":"ind","type":"nominal","scale":{"domain":["N","G","A"],"range":["#a99ca3","#bfb590","#9e99c8"]},"legend":null}}},
{"data":{"values":[{"t":"(viii) Peptides/precursors(receptor not always identified)"}]},"mark":{"type":"text","align":"left","baseline":"alphabetic","dy":-10,"fontSize":11.2,"fontWeight":"bold","color":"#111"},"encoding":{"x":{"datum":"pep","bandPosition":0},"y":{"datum":"hdr","bandPosition":0},"text":{"field":"t"}}}
]}
]},
{"spacing":10,
"resolve":{"scale":{"color":"independent","fill":"independent"},"legend":{"color":"independent","fill":"independent"}},
"vconcat":[
{"spacing":5,
"resolve":{"scale":{"color":"independent","fill":"independent"},"legend":{"color":"independent","fill":"independent"}},
"vconcat":[
{"spacing":2,
"resolve":{"scale":{"color":"independent","fill":"independent"},"legend":{"color":"independent","fill":"independent"}},
"vconcat":[
{"width":371,"height":32,
"data":{"values":[{"lab":"GABAergic","c":"A"},{"lab":"Glutamatergic","c":"G"}]},
"encoding":{"x":{"datum":"ind","type":"nominal","scale":{"domain":["ind","pep","r1","r2","r3","r4","r5"],"paddingInner":0.025,"paddingOuter":0},"axis":null},
"y":{"field":"lab","type":"nominal","scale":{"domain":["GABAergic","Glutamatergic"],"paddingInner":0.12,"paddingOuter":0},"axis":null}},
"layer":[
{"mark":{"type":"rect"},"encoding":{"fill":{"field":"c","type":"nominal","scale":{"domain":["N","G","A"],"range":["#a99ca3","#bfb590","#9e99c8"]},"legend":null}}},
{"mark":{"type":"text","color":"white","fontSize":8.6},"encoding":{"text":{"field":"lab"}}},
{"data":{"values":[{"t":"(iv) Excitatory projection neurons"}]},"mark":{"type":"text","align":"left","baseline":"middle","dy":-3,"fontSize":13.5,"fontWeight":"bold","color":"#111"},"encoding":{"x":{"datum":"pep","bandPosition":0},"y":{"datum":"Glutamatergic"},"text":{"field":"t"}}}
]},
{"width":371,"height":{"step":10.45},
"encoding":{"x":{"field":"col","type":"nominal","scale":{"domain":["ind","pep","r1","r2","r3","r4","r5"],"paddingInner":0.025,"paddingOuter":0},"axis":null},
"y":{"field":"pep","type":"nominal","scale":{"domain":["hdr","AGT","ADCYAP1","CBLN2","CBLN4","CCK","CHGA","CHGB","CRH","EDN1","GRP","HCRT","NMB","NPY","PDYN","SCG5","SST","TAC1","UCN","VGF","VIP"],"paddingInner":0.1,"paddingOuter":0.05},"axis":null}},
"layer":[
{"data":{"values":[{"h":"Peptide"}]},"mark":{"type":"rect","color":"#2f7a38"},"encoding":{"x":{"datum":"pep"},"y":{"datum":"hdr","bandPosition":-0.45},"y2":{"datum":"hdr","bandPosition":1}}},
{"data":{"values":[{"h":"Receptor"}]},"mark":{"type":"rect","color":"#8d8d90"},"encoding":{"x":{"datum":"r1","bandPosition":0},"x2":{"datum":"r5","bandPosition":1},"y":{"datum":"hdr","bandPosition":-0.45},"y2":{"datum":"hdr","bandPosition":1}}},
{"data":{"values":[{"h":"Peptide"}]},"mark":{"type":"text","color":"white","fontSize":11},"encoding":{"x":{"datum":"pep"},"y":{"datum":"hdr","bandPosition":0.28},"text":{"field":"h"}}},
{"data":{"values":[{"h":"Receptor"}]},"mark":{"type":"text","color":"white","fontSize":11},"encoding":{"x":{"datum":"r3","bandPosition":0.5},"y":{"datum":"hdr","bandPosition":0.28},"text":{"field":"h"}}},
{"data":{"values":[{"lab":"Non-neuronal","c":"N"}]},"mark":{"type":"rect"},"encoding":{"x":{"datum":"ind"},"y":{"datum":"hdr","bandPosition":-0.45},"y2":{"datum":"hdr","bandPosition":1},"fill":{"field":"c","type":"nominal","scale":{"domain":["N","G","A"],"range":["#a99ca3","#bfb590","#9e99c8"]},"legend":null}}},
{"data":{"values":[{"lab":"Non-neuronal"}]},"mark":{"type":"text","color":"white","fontSize":8.6},"encoding":{"x":{"datum":"ind"},"y":{"datum":"hdr","bandPosition":0.28},"text":{"field":"lab"}}},
{"data":{"name":"cells"},"transform":[{"filter":"datum.p=='iv'"}],"mark":{"type":"rect"},"encoding":{"color":{"field":"v","type":"quantitative","scale":{"domain":[0,1,2.5,4,5.2,6.2,7.3],"range":["#fff8f2","#fee6d2","#fcc9a0","#f6a068","#ee6c48","#d8392a","#a3141d"],"clamp":true},"legend":{"orient":"none","legendX":308,"legendY":24,"title":"Log2 (nTPM+1)","values":[0,2,4,6],"direction":"vertical","gradientLength":110,"gradientThickness":18,"titleFontSize":11,"titleFontWeight":"normal","titleColor":"#111","titlePadding":11,"labelFontSize":12,"labelColor":"#111","labelOffset":4}}}},
{"data":{"name":"cells"},"transform":[{"filter":"datum.p=='iv'"}],"mark":{"type":"text","fontSize":9.5},"encoding":{"text":{"field":"g"},"color":{"condition":{"test":"datum.v>=5.8","value":"white"},"value":"#111"}}},
{"data":{"name":"cells"},"transform":[{"filter":"datum.p=='iv' && datum.box"}],"mark":{"type":"rect","filled":false,"stroke":"#222","strokeWidth":1,"strokeDash":[2,1.5]}},
{"data":{"name":"cells"},"transform":[{"filter":"datum.p=='iv' && datum.ind"},{"flatten":["ind"]}],"mark":{"type":"rect"},"encoding":{"x":{"datum":"ind"},"xOffset":{"field":"ind","type":"nominal","scale":{"domain":["N","G","A"],"paddingInner":0.15,"paddingOuter":0.55,"align":1}},"fill":{"field":"ind","type":"nominal","scale":{"domain":["N","G","A"],"range":["#a99ca3","#bfb590","#9e99c8"]},"legend":null}}}
]}
]},
{"width":371,"height":{"step":11.2},
"encoding":{"x":{"field":"col","type":"nominal","scale":{"domain":["ind","pep","r1","r2","r3","r4","r5"],"paddingInner":0.025,"paddingOuter":0},"axis":null},
"y":{"field":"pep","type":"nominal","scale":{"domain":["hdr","GHRL","GNRH1","GNRH2","NPB","NPW","TRH","PYY","UTS2B"],"paddingInner":0.1,"paddingOuter":0.05},"axis":null}},
"layer":[
{"data":{"values":[{"h":"Peptide"}]},"mark":{"type":"rect","color":"#2f7a38"},"encoding":{"x":{"datum":"pep"},"y":{"datum":"hdr","bandPosition":-0.45},"y2":{"datum":"hdr","bandPosition":1}}},
{"data":{"values":[{"h":"Receptor"}]},"mark":{"type":"rect","color":"#8d8d90"},"encoding":{"x":{"datum":"r1","bandPosition":0},"x2":{"datum":"r2","bandPosition":1},"y":{"datum":"hdr","bandPosition":-0.45},"y2":{"datum":"hdr","bandPosition":1}}},
{"data":{"values":[{"h":"Peptide"}]},"mark":{"type":"text","color":"white","fontSize":11},"encoding":{"x":{"datum":"pep"},"y":{"datum":"hdr","bandPosition":0.28},"text":{"field":"h"}}},
{"data":{"values":[{"h":"Receptor"}]},"mark":{"type":"text","color":"white","fontSize":11},"encoding":{"x":{"datum":"r2","bandPosition":0},"y":{"datum":"hdr","bandPosition":0.28},"text":{"field":"h"}}},
{"data":{"name":"cells"},"transform":[{"filter":"datum.p=='v'"}],"mark":{"type":"rect"},"encoding":{"color":{"field":"v","type":"quantitative","scale":{"domain":[0,1,2.5,4,5.2,6.2,7.3],"range":["#fff8f2","#fee6d2","#fcc9a0","#f6a068","#ee6c48","#d8392a","#a3141d"],"clamp":true},"legend":null}}},
{"data":{"name":"cells"},"transform":[{"filter":"datum.p=='v'"}],"mark":{"type":"text","fontSize":9.5},"encoding":{"text":{"field":"g"},"color":{"condition":{"test":"datum.v>=5.8","value":"white"},"value":"#111"}}},
{"data":{"name":"cells"},"transform":[{"filter":"datum.p=='v' && datum.box"}],"mark":{"type":"rect","filled":false,"stroke":"#222","strokeWidth":1,"strokeDash":[2,1.5]}},
{"data":{"name":"cells"},"transform":[{"filter":"datum.p=='v' && datum.ind"},{"flatten":["ind"]}],"mark":{"type":"rect"},"encoding":{"x":{"datum":"ind"},"xOffset":{"field":"ind","type":"nominal","scale":{"domain":["N","G","A"],"paddingInner":0.15,"paddingOuter":0.55,"align":1}},"fill":{"field":"ind","type":"nominal","scale":{"domain":["N","G","A"],"range":["#a99ca3","#bfb590","#9e99c8"]},"legend":null}}},
{"data":{"values":[{"t":"(v) Projection neuron candidates (no receptor detected)"}]},"mark":{"type":"text","align":"left","baseline":"alphabetic","dy":-15,"fontSize":12,"fontWeight":"bold","color":"#111"},"encoding":{"x":{"datum":"pep","bandPosition":0},"y":{"datum":"hdr","bandPosition":0},"text":{"field":"t"}}}
]},
{"width":371,"height":{"step":10.2},
"encoding":{"x":{"field":"col","type":"nominal","scale":{"domain":["ind","pep","r1","r2","r3","r4","r5"],"paddingInner":0.025,"paddingOuter":0},"axis":null},
"y":{"field":"pep","type":"nominal","scale":{"domain":["hdr","AGT","CBLN2","CCK","CHGA","CHGB","GNRH1","HCRT","NMB","SCG5","SST","TAC1","UCN","VGF","VIP"],"paddingInner":0.1,"paddingOuter":0.05},"axis":null}},
"layer":[
{"data":{"values":[{"h":"Peptide"}]},"mark":{"type":"rect","color":"#2f7a38"},"encoding":{"x":{"datum":"pep"},"y":{"datum":"hdr","bandPosition":-0.5},"y2":{"datum":"hdr","bandPosition":1}}},
{"data":{"values":[{"h":"Receptor"}]},"mark":{"type":"rect","color":"#8d8d90"},"encoding":{"x":{"datum":"r1","bandPosition":0},"x2":{"datum":"r2","bandPosition":1},"y":{"datum":"hdr","bandPosition":-0.5},"y2":{"datum":"hdr","bandPosition":1}}},
{"data":{"values":[{"h":"Peptide"}]},"mark":{"type":"text","color":"white","fontSize":11},"encoding":{"x":{"datum":"pep"},"y":{"datum":"hdr","bandPosition":0.25},"text":{"field":"h"}}},
{"data":{"values":[{"h":"Receptor"}]},"mark":{"type":"text","color":"white","fontSize":11},"encoding":{"x":{"datum":"r2","bandPosition":0},"y":{"datum":"hdr","bandPosition":0.25},"text":{"field":"h"}}},
{"data":{"name":"cells"},"transform":[{"filter":"datum.p=='vi'"}],"mark":{"type":"rect"},"encoding":{"color":{"field":"v","type":"quantitative","scale":{"domain":[0,1,2.5,4,5.2,6.2,7.3],"range":["#fff8f2","#fee6d2","#fcc9a0","#f6a068","#ee6c48","#d8392a","#a3141d"],"clamp":true},"legend":null}}},
{"data":{"name":"cells"},"transform":[{"filter":"datum.p=='vi'"}],"mark":{"type":"text","fontSize":9.5},"encoding":{"text":{"field":"g"},"color":{"condition":{"test":"datum.v>=5.8","value":"white"},"value":"#111"}}},
{"data":{"name":"cells"},"transform":[{"filter":"datum.p=='vi' && datum.ind"},{"flatten":["ind"]}],"mark":{"type":"rect"},"encoding":{"x":{"datum":"ind"},"xOffset":{"field":"ind","type":"nominal","scale":{"domain":["N","G","A"],"paddingInner":0.15,"paddingOuter":0.55,"align":1}},"fill":{"field":"ind","type":"nominal","scale":{"domain":["N","G","A"],"range":["#a99ca3","#bfb590","#9e99c8"]},"legend":null}}},
{"data":{"values":[{"t":"(vi) Non-neuronal cells"}]},"mark":{"type":"text","align":"left","baseline":"alphabetic","dy":-18,"fontSize":13.5,"fontWeight":"bold","color":"#111"},"encoding":{"x":{"datum":"pep","bandPosition":0},"y":{"datum":"hdr","bandPosition":0},"text":{"field":"t"}}}
]}
]},
{"spacing":8,
"resolve":{"scale":{"color":"independent","fill":"independent"},"legend":{"color":"independent","fill":"independent"}},
"vconcat":[
{"width":371,"height":{"step":11.3},
"title":{"text":"Italics indicate potentially blood-borne","orient":"bottom","anchor":"start","dx":55,"offset":5,"font":"Liberation Serif","fontStyle":"italic","fontWeight":"normal","fontSize":11,"color":"#222"},
"encoding":{"x":{"field":"col","type":"nominal","scale":{"domain":["ind","pep","r1","r2","r3","r4","r5"],"paddingInner":0.025,"paddingOuter":0},"axis":null},
"y":{"field":"pep","type":"nominal","scale":{"domain":["hdr","ADIPOQ","AVP","EDN2","GCG (GLP1/2)","GH1","GIP","IAPP","LEP","NMS","NPS","NPVF","NTS","PMCH","PPY","PRL","PRLH","UCN3"],"paddingInner":0.1,"paddingOuter":0.05},"axis":null}},
"layer":[
{"data":{"values":[{"h":"Peptide"}]},"mark":{"type":"rect","color":"#2f7a38"},"encoding":{"x":{"datum":"pep"},"y":{"datum":"hdr","bandPosition":-0.45},"y2":{"datum":"hdr","bandPosition":1}}},
{"data":{"values":[{"h":"Receptor"}]},"mark":{"type":"rect","color":"#8d8d90"},"encoding":{"x":{"datum":"r1","bandPosition":0},"x2":{"datum":"r5","bandPosition":1},"y":{"datum":"hdr","bandPosition":-0.45},"y2":{"datum":"hdr","bandPosition":1}}},
{"data":{"values":[{"h":"Peptide"}]},"mark":{"type":"text","color":"white","fontSize":11},"encoding":{"x":{"datum":"pep"},"y":{"datum":"hdr","bandPosition":0.28},"text":{"field":"h"}}},
{"data":{"values":[{"h":"Receptor"}]},"mark":{"type":"text","color":"white","fontSize":11},"encoding":{"x":{"datum":"r3","bandPosition":0.5},"y":{"datum":"hdr","bandPosition":0.28},"text":{"field":"h"}}},
{"data":{"name":"cells"},"transform":[{"filter":"datum.p=='vii'"}],"mark":{"type":"rect"},"encoding":{"color":{"field":"v","type":"quantitative","scale":{"domain":[0,1,2.5,4,5.2,6.2,7.3],"range":["#fff8f2","#fee6d2","#fcc9a0","#f6a068","#ee6c48","#d8392a","#a3141d"],"clamp":true},"legend":null}}},
{"data":{"name":"cells"},"transform":[{"filter":"datum.p=='vii' && !datum.it"}],"mark":{"type":"text","fontSize":9.5},"encoding":{"text":{"field":"g"},"color":{"condition":{"test":"datum.v>=5.8","value":"white"},"value":"#111"}}},
{"data":{"name":"cells"},"transform":[{"filter":"datum.p=='vii' && datum.it"}],"mark":{"type":"text","fontSize":9.5,"fontStyle":"italic"},"encoding":{"text":{"field":"g"},"color":{"condition":{"test":"datum.v>=5.8","value":"white"},"value":"#111"}}},
{"data":{"values":[{"t":"(vii) Afferents (neuronal, blood-borne) (peptides not detected)"}]},"mark":{"type":"text","align":"left","baseline":"alphabetic","dy":-13,"dx":-8,"fontSize":11.4,"fontWeight":"bold","color":"#111"},"encoding":{"x":{"datum":"pep","bandPosition":0},"y":{"datum":"hdr","bandPosition":0},"text":{"field":"t"}}}
]},
{"width":371,"height":{"step":12.5},
"encoding":{"x":{"field":"col","type":"nominal","scale":{"domain":["ind","pep","r1","r2","r3","r4","r5"],"paddingInner":0.025,"paddingOuter":0},"axis":null},
"y":{"field":"pep","type":"nominal","scale":{"domain":["hdr","GCG(Glucagon)","MLN","UTS2"],"paddingInner":0.1,"paddingOuter":0.05},"axis":null}},
"layer":[
{"data":{"values":[{"h":"Peptide"}]},"mark":{"type":"rect","color":"#2f7a38"},"encoding":{"x":{"datum":"pep"},"y":{"datum":"hdr","bandPosition":-0.1},"y2":{"datum":"hdr","bandPosition":1}}},
{"data":{"values":[{"h":"Receptor"}]},"mark":{"type":"rect","color":"#8d8d90"},"encoding":{"x":{"datum":"r1","bandPosition":0},"x2":{"datum":"r1","bandPosition":1},"y":{"datum":"hdr","bandPosition":-0.1},"y2":{"datum":"hdr","bandPosition":1}}},
{"data":{"values":[{"h":"Peptide"}]},"mark":{"type":"text","color":"white","fontSize":11},"encoding":{"x":{"datum":"pep"},"y":{"datum":"hdr","bandPosition":0.45},"text":{"field":"h"}}},
{"data":{"values":[{"h":"Receptor"}]},"mark":{"type":"text","color":"white","fontSize":11},"encoding":{"x":{"datum":"r1","bandPosition":0.5},"y":{"datum":"hdr","bandPosition":0.45},"text":{"field":"h"}}},
{"data":{"name":"cells"},"transform":[{"filter":"datum.p=='ix'"}],"mark":{"type":"rect"},"encoding":{"color":{"field":"v","type":"quantitative","scale":{"domain":[0,1,2.5,4,5.2,6.2,7.3],"range":["#fff8f2","#fee6d2","#fcc9a0","#f6a068","#ee6c48","#d8392a","#a3141d"],"clamp":true},"legend":null}}},
{"data":{"name":"cells"},"transform":[{"filter":"datum.p=='ix'"}],"mark":{"type":"text","fontSize":9.5},"encoding":{"text":{"field":"g"},"color":{"condition":{"test":"datum.v>=5.8","value":"white"},"value":"#111"}}},
{"data":{"values":[{"t":"(ix) Peptides and receptors not detected"}]},"mark":{"type":"text","align":"left","baseline":"alphabetic","dy":-10,"fontSize":13.5,"fontWeight":"bold","color":"#111"},"encoding":{"x":{"datum":"pep","bandPosition":0},"y":{"datum":"hdr","bandPosition":0},"text":{"field":"t"}}}
]}
]}
]}
]
}
